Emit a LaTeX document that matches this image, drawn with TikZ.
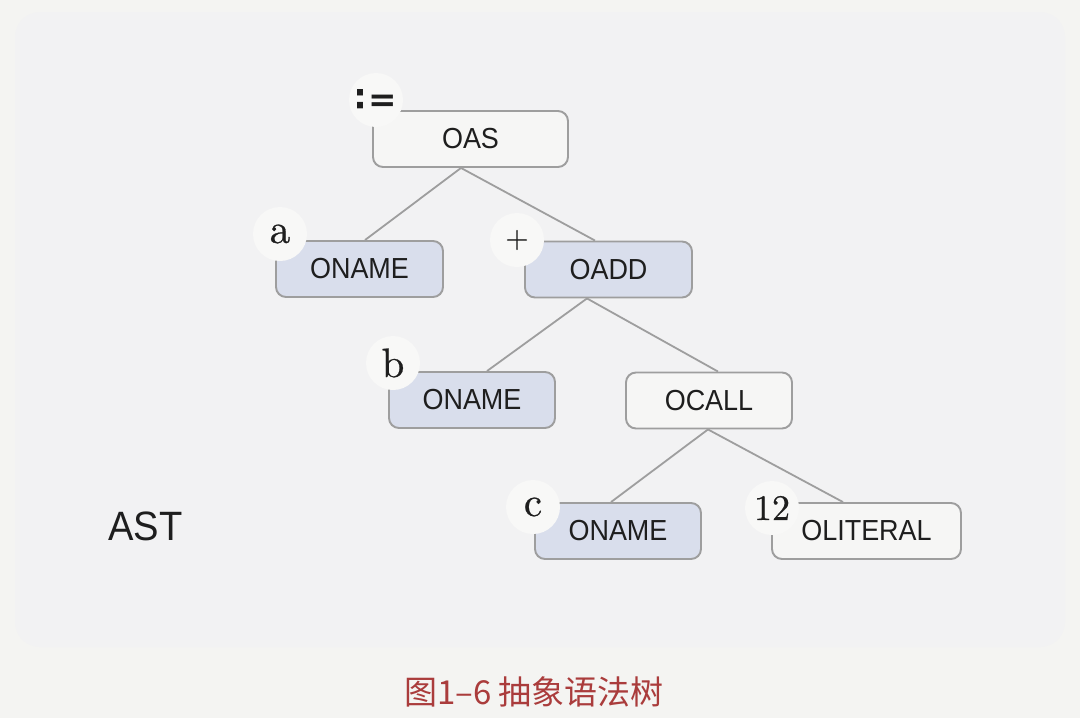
\documentclass[tikz,border=0pt]{standalone}
\usepackage{fontspec}
\newfontfamily\sansf[FakeStretch=0.93]{Liberation Sans}
\newfontfamily\cjkf{Noto Sans CJK SC}
\newfontfamily\symf{DejaVu Sans}
\newfontfamily\lblf{lmroman10-regular}[Extension=.otf, FakeBold=0.6]
\definecolor{bgc}{RGB}{244,244,242}
\definecolor{panelc}{RGB}{242,242,243}
\definecolor{blueb}{RGB}{217,222,236}
\definecolor{whiteb}{RGB}{246,246,245}
\definecolor{edgec}{RGB}{158,158,158}
\definecolor{haloc}{RGB}{248,248,247}
\definecolor{txtc}{RGB}{30,30,30}
\definecolor{capc}{RGB}{170,60,60}
\begin{document}
\begin{tikzpicture}[x=1pt,y=-1pt,
  opbox/.style={draw=edgec, line width=1.9pt, rounded corners=10pt, inner sep=0pt,
    minimum height=56pt, font=\sansf\fontsize{29}{32}\selectfont, text=txtc},
  bluebox/.style={opbox, fill=blueb},
  plainbox/.style={opbox, fill=whiteb},
  halo/.style={circle, fill=haloc, inner sep=0pt, minimum size=54pt,
    font=\lblf\fontsize{41}{41}\selectfont, text=txtc},
  link/.style={draw=edgec, line width=1.8pt}]
\useasboundingbox (0,0) rectangle (1080,718);
\fill[bgc] (0,0) rectangle (1080,718);
\fill[panelc, rounded corners=25pt] (15,12) rectangle (1065,647);

\node[plainbox, minimum width=195pt] (oas) at (470.5,139) {OAS};
\node[bluebox, minimum width=167pt] (namea) at (359.5,269) {ONAME};
\node[bluebox, minimum width=167pt] (oadd) at (608.5,269.5) {OADD};
\node[bluebox, minimum width=166pt] (nameb) at (472,400) {ONAME};
\node[plainbox, minimum width=166pt] (ocall) at (709,400.5) {OCALL};
\node[bluebox, minimum width=166pt] (namec) at (618,531) {ONAME};
\node[plainbox, minimum width=189pt] (olit) at (866.5,531) {OLITERAL};

\draw[link] ([xshift=-9.5pt]oas.south) -- ([xshift=5.5pt]namea.north);
\draw[link] ([xshift=-9.5pt]oas.south) -- ([xshift=-13.5pt]oadd.north);
\draw[link] ([xshift=-21.5pt]oadd.south) -- ([xshift=15pt]nameb.north);
\draw[link] ([xshift=-21.5pt]oadd.south) -- ([xshift=9pt]ocall.north);
\draw[link] ([xshift=-1pt]ocall.south) -- ([xshift=-7pt]namec.north);
\draw[link] ([xshift=-1pt]ocall.south) -- ([xshift=-23.5pt]olit.north);

\node[halo, font=\symf\bfseries\fontsize{34}{34}\selectfont] (lassign) at (376,100) {∶\kern3pt=};
\node[halo] (la) at (280,234) {a};
\node[halo, font=\lblf\fontsize{30}{30}\selectfont] (lplus) at (517,240) {+};
\node[halo] (lb) at (393,363) {b};
\node[halo] (lc) at (533,507) {c};
\node[halo, font=\lblf\fontsize{36}{36}\selectfont] (l12) at (772,508) {12};

\node[font=\sansf\fontsize{41}{42}\selectfont, text=txtc] (ast) at (145.5,526) {AST};
\node[font=\cjkf\fontsize{33}{33}\selectfont, text=capc] (cap) at (534,692) {图1–6 抽象语法树};
\end{tikzpicture}
\end{document}
